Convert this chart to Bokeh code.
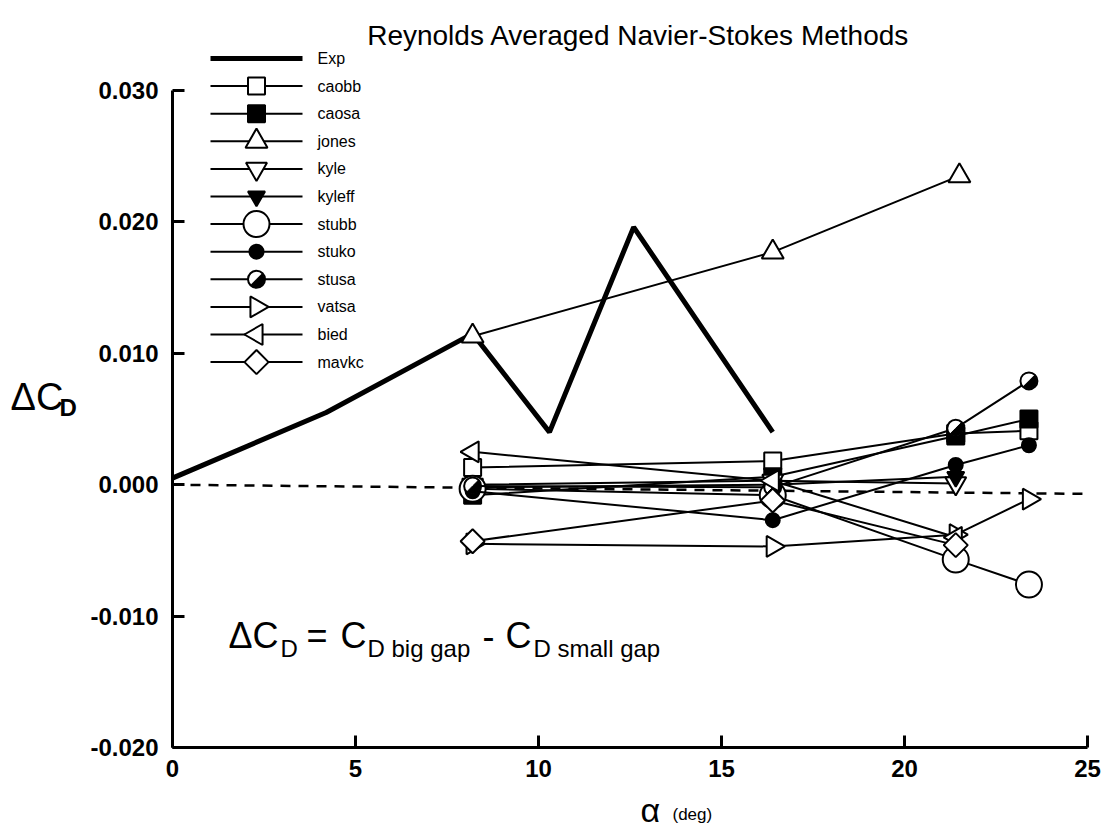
from bokeh.plotting import figure
from bokeh.models import Range1d, Label, NumeralTickFormatter, FixedTicker
from bokeh.layouts import row, column
from bokeh.core.properties import value
from bokeh.embed import file_html
from bokeh.resources import INLINE

# ---------------- data ----------------
alpha_exp = [0.0, 4.2, 8.2, 10.3, 12.6, 16.4]
dcd_exp = [0.0005, 0.0055, 0.0115, 0.0040, 0.0196, 0.0040]

alpha_4 = [8.2, 16.4, 21.4, 23.4]
alpha_3 = [8.2, 16.4, 21.4]
alpha_jones = [8.2, 16.4, 21.5]

caobb = [0.0013, 0.0018, 0.0039, 0.0041]
caosa = [-0.0008, 0.0006, 0.0037, 0.0050]
jones = [0.0113, 0.0177, 0.0235]
kyle = [0.0000, 0.0003, 0.0001]
kyleff = [-0.0002, 0.0000, 0.0006]
stubb = [-0.0003, -0.0008, -0.0057, -0.0076]
stuko = [-0.0005, -0.0027, 0.0015, 0.0030]
stusa = [-0.0001, -0.0002, 0.0043, 0.0079]
vatsa = [-0.0045, -0.0047, -0.0038, -0.0011]
bied = [0.0025, 0.0003, -0.0040]
mavkc = [-0.0043, -0.0012, -0.0046]

ref_x = [0.0, 25.0]
ref_y = [0.0, -0.0007]

x_ticks = [0, 5, 10, 15, 20, 25]
y_ticks = [-0.02, -0.01, 0.0, 0.01, 0.02, 0.03]

FONT = "Liberation Sans"
W, H = 1108, 838

# ---------------- geometry ----------------
YLAB_W = 84          # width of the left strip holding the y label
XLAB_H = 48          # height of the bottom strip holding the x label
MAIN_W, MAIN_H = W - YLAB_W, H - XLAB_H
B_LEFT, B_RIGHT, B_TOP, B_BOTTOM = 88, 21, 5, 43
FX0, FX1 = YLAB_W + B_LEFT, W - B_RIGHT
FY0, FY1 = B_TOP, MAIN_H - B_BOTTOM
Y_TOP_VAL_PX = 90    # canvas y of 0.030
px_per = (FY1 - Y_TOP_VAL_PX) / 0.05
y_end = 0.030 + (Y_TOP_VAL_PX - FY0) / px_per


def blank(width, height):
    f = figure(width=width, height=height, output_backend="svg", toolbar_location=None,
               x_range=Range1d(0, width), y_range=Range1d(height, 0),
               x_axis_type=None, y_axis_type=None, min_border=0)
    f.outline_line_color = None
    f.xgrid.visible = False
    f.ygrid.visible = False
    return f


p = figure(width=MAIN_W, height=MAIN_H, output_backend="svg", toolbar_location=None,
           x_range=Range1d(0, 25), y_range=Range1d(-0.020, y_end),
           min_border_left=B_LEFT, min_border_right=B_RIGHT,
           min_border_top=B_TOP, min_border_bottom=B_BOTTOM)
p.extra_x_ranges = {"px": Range1d(FX0, FX1)}
p.extra_y_ranges = {"py": Range1d(FY1, FY0)}
p.outline_line_color = None
p.xgrid.visible = False
p.ygrid.visible = False

for ax, ticks in ((p.xaxis[0], x_ticks), (p.yaxis[0], y_ticks)):
    ax.ticker = FixedTicker(ticks=ticks)
    ax.minor_tick_line_color = None
    ax.axis_line_width = 3
    ax.major_tick_line_width = 3
    ax.major_tick_out = 0
    ax.major_tick_in = 12
    ax.major_label_text_font = FONT
    ax.major_label_text_font_style = "bold"
    ax.major_label_text_color = "black"
    ax.major_label_text_font_size = "24px"
p.xaxis.bounds = (0, 25)
p.yaxis.bounds = (-0.02, 0.03)
p.yaxis.formatter = NumeralTickFormatter(format="0.000")
p.yaxis.major_label_standoff = 14
p.xaxis.major_label_standoff = 12

# zero reference dashed line
p.line(ref_x, ref_y, line_color="black", line_width=2.5, line_dash="10 8")

p.line(alpha_exp, dcd_exp, line_color="black", line_width=5)

LW = 2
# name, xs, ys, marker, size, fill, angle
specs = [
    ("caobb", alpha_4, caobb, "square", 17, "white", 0.0),
    ("caosa", alpha_4, caosa, "square", 17, "black", 0.0),
    ("jones", alpha_jones, jones, "triangle", 22, "white", 0.0),
    ("kyle", alpha_3, kyle, "inverted_triangle", 21, "white", 0.0),
    ("kyleff", alpha_3, kyleff, "inverted_triangle", 17, "black", 0.0),
    ("stubb", alpha_4, stubb, "circle", 26, "white", 0.0),
    ("stuko", alpha_4, stuko, "circle", 14, "black", 0.0),
    ("stusa", alpha_4, stusa, "circle", 17, "white", 0.0),
    ("vatsa", alpha_4, vatsa, "triangle", 21, "white", -1.5708),
    ("bied", alpha_3, bied, "triangle", 21, "white", 1.5708),
    ("mavkc", alpha_3, mavkc, "square", 17, "white", 0.7854),
]
HALF = "stusa"

for name, xs, ys, mk, sz, fill, ang in specs:
    p.line(xs, ys, line_color="black", line_width=LW)
    p.scatter(xs, ys, marker=mk, size=sz, fill_color=fill, line_color="black",
              line_width=2, angle=ang)
    if name == HALF:
        p.wedge(xs, ys, radius=sz / 2 - 0.5, radius_units="screen",
                start_angle=-2.356, end_angle=0.785,
                fill_color="black", line_color="black")

# ---------------- legend (drawn in canvas-pixel ranges) ----------------
LEG_X0, LEG_X1, LEG_TX = 210, 302, 317
LEG_Y0, LEG_DY = 58, 27.6
leg_names = ["Exp"] + [s[0] for s in specs]
leg_y = [LEG_Y0 + LEG_DY * i for i in range(len(leg_names))]
leg_mx = (LEG_X0 + LEG_X1) / 2

p.segment(x0=[LEG_X0], y0=leg_y[:1], x1=[LEG_X1], y1=leg_y[:1], line_color="black",
          line_width=5, x_range_name="px", y_range_name="py")
n = len(specs)
p.segment(x0=[LEG_X0] * n, y0=leg_y[1:], x1=[LEG_X1] * n, y1=leg_y[1:],
          line_color="black", line_width=LW, x_range_name="px", y_range_name="py")
for (name, xs, ys, mk, sz, fill, ang), yy in zip(specs, leg_y[1:]):
    p.scatter([leg_mx], [yy], marker=mk, size=sz, fill_color=fill, line_color="black",
              line_width=2, angle=ang, x_range_name="px", y_range_name="py")
    if name == HALF:
        p.wedge([leg_mx], [yy], radius=sz / 2 - 0.5, radius_units="screen",
                start_angle=-2.356, end_angle=0.785, fill_color="black",
                line_color="black", x_range_name="px", y_range_name="py")
p.text(x=[LEG_TX] * len(leg_names), y=leg_y, text=leg_names,
       text_font=value(FONT), text_font_size="16px", text_baseline="middle",
       text_color="black", x_range_name="px", y_range_name="py")


def lab(fig, text, cx, cy, size, align="left", style="normal", xr=None, yr=None):
    kw = {}
    if xr:
        kw["x_range_name"] = xr
        kw["y_range_name"] = yr
    fig.add_layout(Label(x=cx, y=cy, text=text, text_font=FONT, text_font_size=size,
                         text_font_style=style, text_align=align,
                         text_baseline="alphabetic", text_color="black", **kw))


# title
lab(p, "Reynolds Averaged Navier-Stokes Methods", 638, 35, "28px", align="center",
    xr="px", yr="py")
# formula
by, sy = 635, 648
for txt, cx, yy, sz in [("\u0394C", 228, by, "36px"), ("D", 280, sy, "24px"),
                        ("=", 306, by, "36px"), ("C", 340, by, "36px"),
                        ("D big gap", 367, sy, "24px"), ("-", 482, by, "36px"),
                        ("C", 505, by, "36px"), ("D small gap", 533, sy, "24px")]:
    lab(p, txt, cx, yy, sz, xr="px", yr="py")

# y label strip
ylab = blank(YLAB_W, MAIN_H)
lab(ylab, "\u0394C", 10, 417, "38px")
lab(ylab, "D", 59, 428, "24px", style="bold")

# x label strip (starts at canvas y = MAIN_H)
xlab = blank(W, XLAB_H)
lab(xlab, "\u03b1", 640, 19, "34px")
lab(xlab, "(deg)", 672, 24, "17px")

layout = column(row(ylab, p, spacing=0), xlab, spacing=0)
open("out.html", "w").write(file_html(layout, INLINE))
